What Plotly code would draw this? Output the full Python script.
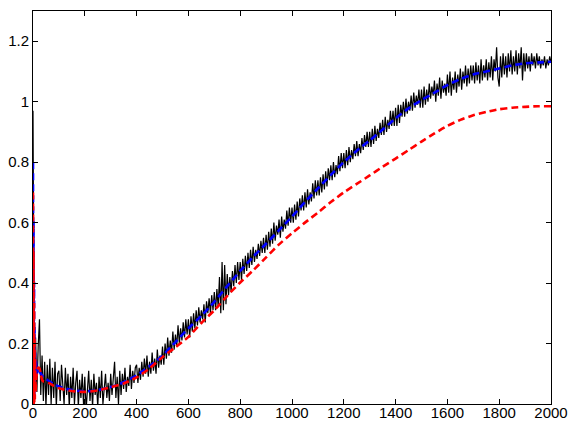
import numpy as np
import plotly.graph_objects as go

# Noisy measured signal, sampled every 5 iterations (0..2000)
signal_step = 5
signal = [
    0.97, 0.02, 0.22, 0.04, 0.19, 0.28, 0.03, 0.16, 0.01, 0.14, -0.01, 0.13, 0.03, 0.15, 0.0, 0.12, 0.02, 0.14, -0.01, 0.10,
    0.11, 0.01, 0.13, 0.04, 0.0, 0.12, 0.03, 0.10, -0.01, 0.09, 0.02, 0.12, 0.0, 0.07, 0.11, -0.01, 0.08, 0.02, 0.10, 0.0,
    0.09, -0.02, 0.06, 0.11, 0.01, 0.08, -0.01, 0.10, 0.03, 0.07, -0.01, 0.09, 0.02, 0.11, 0.0, 0.06, 0.10, 0.02, 0.07, 0.01,
    0.10, 0.03, 0.08, 0.14, 0.02, 0.09, 0.0, 0.11, 0.03, 0.10, 0.05, 0.12, 0.04, 0.09, 0.06, 0.13, 0.05, 0.11, 0.07, 0.12,
    0.13, 0.07, 0.12, 0.08, 0.14, 0.09, 0.15, 0.10, 0.16, 0.09, 0.14, 0.10, 0.17, 0.11, 0.15, 0.10, 0.18, 0.12, 0.16, 0.13,
    0.19, 0.13, 0.20, 0.15, 0.22, 0.16, 0.21, 0.17, 0.24, 0.18, 0.23, 0.19, 0.26, 0.20, 0.25, 0.21, 0.27, 0.22, 0.28, 0.23,
    0.28, 0.22, 0.29, 0.24, 0.30, 0.25, 0.31, 0.26, 0.32, 0.27, 0.31, 0.28, 0.33, 0.27, 0.34, 0.30, 0.35, 0.30, 0.36, 0.31,
    0.37, 0.31, 0.38, 0.32, 0.42, 0.30, 0.47, 0.31, 0.46, 0.33, 0.43, 0.36, 0.42, 0.37, 0.44, 0.39, 0.46, 0.40, 0.47, 0.41,
    0.47, 0.41, 0.48, 0.43, 0.49, 0.44, 0.50, 0.45, 0.51, 0.46, 0.52, 0.47, 0.51, 0.48, 0.53, 0.49, 0.54, 0.50, 0.55, 0.50,
    0.56, 0.51, 0.57, 0.52, 0.58, 0.53, 0.60, 0.54, 0.59, 0.56, 0.61, 0.55, 0.62, 0.57, 0.61, 0.58, 0.64, 0.59, 0.65, 0.60,
    0.65, 0.60, 0.66, 0.61, 0.67, 0.62, 0.68, 0.64, 0.69, 0.64, 0.70, 0.65, 0.71, 0.66, 0.70, 0.67, 0.73, 0.68, 0.74, 0.69,
    0.74, 0.69, 0.75, 0.70, 0.76, 0.71, 0.77, 0.72, 0.78, 0.74, 0.79, 0.74, 0.80, 0.75, 0.79, 0.76, 0.82, 0.77, 0.83, 0.78,
    0.83, 0.78, 0.84, 0.79, 0.85, 0.80, 0.84, 0.81, 0.86, 0.82, 0.87, 0.82, 0.86, 0.83, 0.88, 0.84, 0.89, 0.85, 0.90, 0.85,
    0.90, 0.85, 0.91, 0.86, 0.92, 0.87, 0.91, 0.88, 0.93, 0.89, 0.94, 0.89, 0.95, 0.90, 0.94, 0.91, 0.97, 0.92, 0.97, 0.92,
    0.98, 0.92, 0.99, 0.93, 0.99, 0.95, 1.00, 0.95, 1.01, 0.96, 1.00, 0.97, 1.02, 0.97, 1.03, 0.98, 1.02, 0.99, 1.04, 0.98,
    1.04, 0.98, 1.05, 0.99, 1.04, 1.00, 1.06, 1.01, 1.05, 1.02, 1.07, 1.00, 1.06, 1.02, 1.08, 1.01, 1.07, 1.03, 1.06, 1.02,
    1.09, 1.03, 1.10, 1.02, 1.08, 1.04, 1.10, 1.03, 1.09, 1.05, 1.11, 1.04, 1.10, 1.06, 1.12, 1.05, 1.11, 1.06, 1.12, 1.07,
    1.12, 1.06, 1.13, 1.07, 1.12, 1.06, 1.14, 1.07, 1.12, 1.08, 1.14, 1.07, 1.13, 1.08, 1.15, 1.07, 1.14, 1.10, 1.18, 1.08,
    1.05, 1.15, 1.08, 1.16, 1.09, 1.15, 1.08, 1.16, 1.10, 1.17, 1.09, 1.15, 1.10, 1.17, 1.09, 1.16, 1.11, 1.18, 1.07, 1.16,
    1.10, 1.16, 1.11, 1.15, 1.10, 1.16, 1.12, 1.15, 1.11, 1.16, 1.12, 1.15, 1.11, 1.14, 1.12, 1.15, 1.11, 1.14, 1.12, 1.15,
    1.13,
]

# Iterations at which the two estimates are listed
estimate_iter = [0, 1, 2, 3, 4, 5, 6, 7, 8, 10, 12, 15, 20, 25, 30, 35, 40, 50, 60, 80, 100,
                 150, 200, 250, 300, 350, 400, 450, 500, 550, 600,
                 650, 700, 750, 800, 850, 900, 950, 1000, 1050, 1100,
                 1150, 1200, 1250, 1300, 1350, 1400, 1450, 1500, 1550, 1600,
                 1650, 1700, 1750, 1800, 1850, 1900, 1950, 2000]

# Tracking estimate (blue dashed)
tracking = [0.80, 0.20, 0.60, 0.01, 0.40, 0.02, 0.25, 0.06, 0.17, 0.09, 0.14, 0.10, 0.12, 0.11, 0.10, 0.095, 0.09, 0.083, 0.077, 0.066, 0.058,
            0.046, 0.042, 0.046, 0.056, 0.072, 0.095, 0.125, 0.160, 0.205, 0.250,
            0.292, 0.338, 0.390, 0.440, 0.487, 0.530, 0.575, 0.620, 0.668, 0.713,
            0.758, 0.800, 0.838, 0.872, 0.908, 0.945, 0.978, 1.005, 1.030, 1.055,
            1.075, 1.090, 1.100, 1.110, 1.120, 1.127, 1.130, 1.132]

# Model estimate (red dashed)
model = [0.70, 0.10, 0.50, 0.0, 0.33, 0.01, 0.22, 0.02, 0.15, 0.04, 0.08, 0.10, 0.12, 0.118, 0.10, 0.08, 0.075, 0.073, 0.070, 0.060, 0.052,
         0.043, 0.040, 0.045, 0.055, 0.068, 0.088, 0.118, 0.155, 0.188, 0.222,
         0.268, 0.310, 0.358, 0.402, 0.442, 0.485, 0.528, 0.565, 0.600, 0.633,
         0.668, 0.700, 0.728, 0.756, 0.785, 0.812, 0.840, 0.868, 0.895, 0.920,
         0.940, 0.955, 0.966, 0.975, 0.980, 0.983, 0.985, 0.985]

y_ticks = [0, 0.2, 0.4, 0.6, 0.8, 1.0, 1.2]
y_labels = ["0", "0.2", "0.4", "0.6", "0.8", "1", "1.2"]
x_ticks = list(range(0, 2001, 200))

signal_iter = np.arange(len(signal)) * signal_step

fig = go.Figure()
fig.add_trace(go.Scatter(x=signal_iter, y=signal, mode="lines",
                         line=dict(color="#000000", width=1.2)))
fig.add_trace(go.Scatter(x=estimate_iter, y=tracking, mode="lines",
                         line=dict(color="#0000ff", width=2.6, dash="7px,4px",
                                   shape="spline", smoothing=0.6)))
fig.add_trace(go.Scatter(x=estimate_iter, y=model, mode="lines",
                         line=dict(color="#ff0000", width=2.6, dash="7px,4px",
                                   shape="spline", smoothing=0.6)))

axis_style = dict(showline=True, linecolor="#000000", linewidth=1, mirror="allticks",
                  ticks="inside", ticklen=5, tickcolor="#000000", tickwidth=1,
                  showgrid=False, zeroline=False, automargin=False,
                  tickfont=dict(family="Liberation Sans, Arial, sans-serif", size=15, color="#000000"))

fig.update_layout(
    width=570, height=423,
    margin=dict(l=33, r=19, t=11, b=19),
    paper_bgcolor="#ffffff", plot_bgcolor="#ffffff",
    showlegend=False,
    xaxis=dict(range=[0, 2000], tickvals=x_ticks, ticklabelstandoff=-5, **axis_style),
    yaxis=dict(range=[0, 1.3], tickvals=y_ticks, ticktext=y_labels, **axis_style),
)

fig.write_html("out.html")
